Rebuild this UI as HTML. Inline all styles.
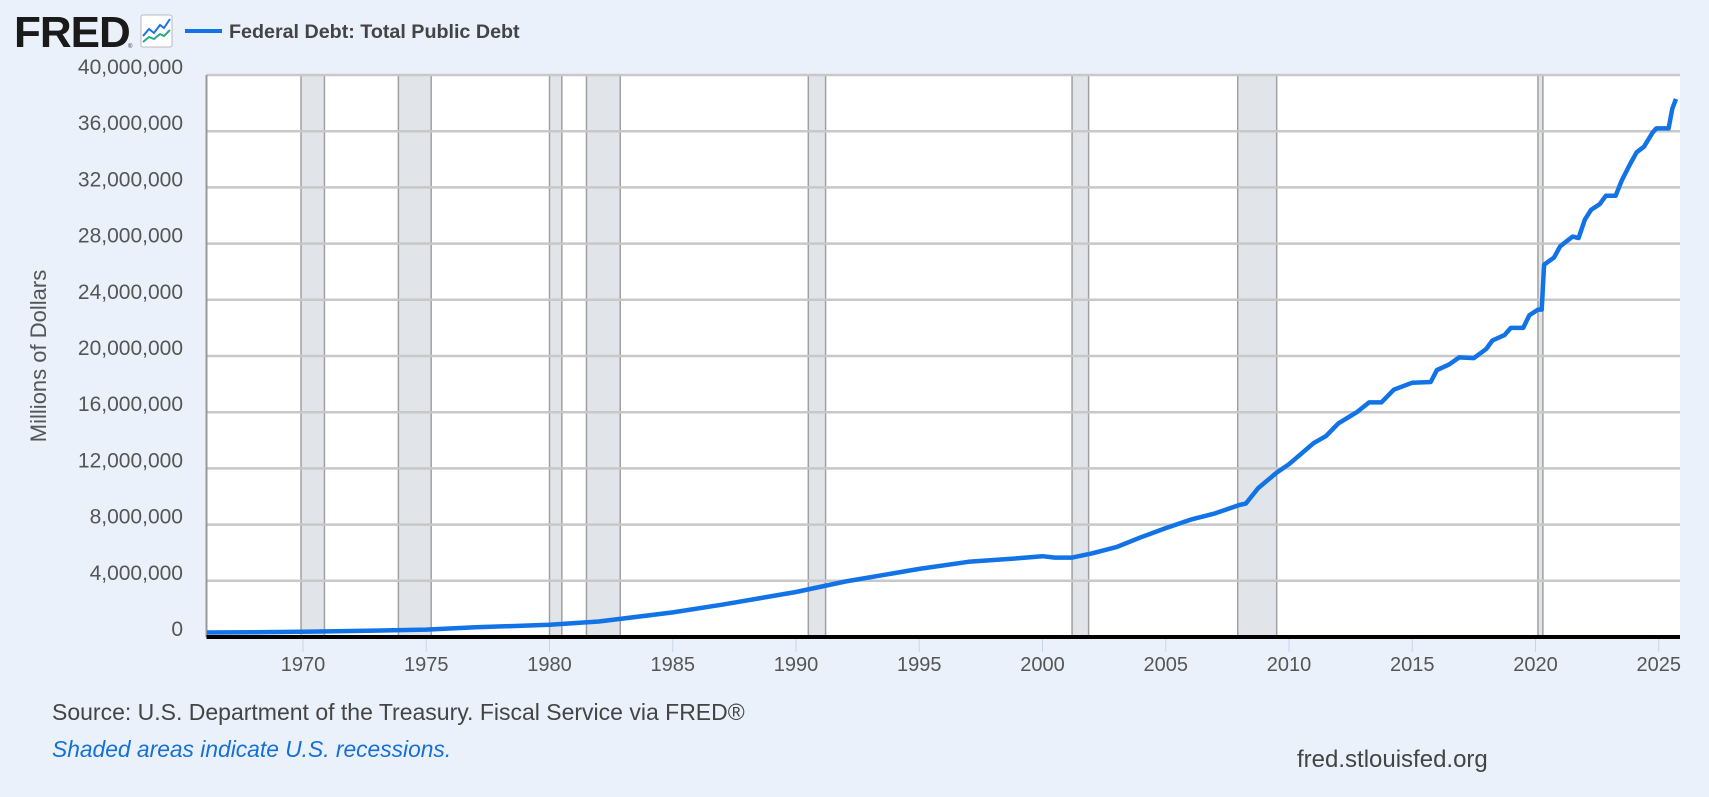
<!DOCTYPE html>
<html><head><meta charset="utf-8"><style>
html,body{margin:0;padding:0;background:#eaf1fb;}
body{width:1709px;height:797px;overflow:hidden;font-family:"Liberation Sans",Arial,sans-serif;}
</style></head><body>
<svg id="s" width="1709" height="797" xmlns="http://www.w3.org/2000/svg" style="position:absolute;left:0;top:0">
<rect width="1709" height="797" fill="#eaf1fb"/>
<text x="14" y="47" font-family="Liberation Sans" font-weight="bold" font-size="44" fill="#1a1a1a" letter-spacing="-1">FRED</text>
<text x="128" y="48" font-size="6" fill="#333">®</text>
<rect x="141" y="15" width="31" height="32" rx="2" fill="#fff" stroke="#bbb" stroke-width="1"/>
<polyline points="143,36 149,29 154,33 160,25 164,28 170,19" fill="none" stroke="#1a73e8" stroke-width="2"/>
<polyline points="143,42 149,37 154,39 160,34 164,36 170,30" fill="none" stroke="#2aa68a" stroke-width="2"/>
<line x1="185" y1="31" x2="222" y2="31" stroke="#1273e6" stroke-width="4"/>
<text x="229" y="38" font-weight="bold" font-size="19.7" fill="#444">Federal Debt: Total Public Debt</text>
<g id="plot"></g>
<text transform="translate(46,356) rotate(-90)" text-anchor="middle" font-size="22" fill="#555">Millions of Dollars</text>
<text x="52" y="720" font-size="23" fill="#444">Source: U.S. Department of the Treasury. Fiscal Service via FRED®</text>
<text x="52" y="757" font-size="22.8" font-style="italic" fill="#1570d6">Shaded areas indicate U.S. recessions.</text>
<text x="1297" y="767" font-size="24" fill="#444">fred.stlouisfed.org</text>
</svg>
<script>
var L=206.5,R=1680,T=75,B=637;
function X(y){return 303+(y-1970)*24.65;}
function Y(v){return B-(v/40000000)*(B-T);}
var h='<rect x="'+L+'" y="'+T+'" width="'+(R-L)+'" height="'+(B-T)+'" fill="#fff"/>';
var rec=[[1969.92,1970.87],[1973.87,1975.2],[1980.0,1980.5],[1981.5,1982.87],[1990.5,1991.2],[2001.2,2001.87],[2007.92,2009.5],[2020.1,2020.3]];
rec.forEach(function(r){var a=X(r[0]),b=X(r[1]);h+='<rect x="'+a+'" y="'+T+'" width="'+(b-a)+'" height="'+(B-T)+'" fill="#e1e5ea" stroke="#a0a0a0" stroke-width="1.5"/>';});
for(var i=0;i<=10;i++){var y=Y(i*4000000);
 if(i>0)h+='<line x1="'+L+'" x2="'+R+'" y1="'+y+'" y2="'+y+'" stroke="#c8c8c8" stroke-width="2.5"/>';
 var lab=(i*4000000).toLocaleString('en-US');
 h+='<text x="183" y="'+(y-1)+'" text-anchor="end" font-size="21" fill="#555">'+lab+'</text>';}
h+='<line x1="'+L+'" x2="'+L+'" y1="'+T+'" y2="'+B+'" stroke="#999" stroke-width="2"/>';
for(var yr=1970;yr<=2025;yr+=5){var x=X(yr);h+='<line x1="'+x+'" x2="'+x+'" y1="'+B+'" y2="'+(B+15)+'" stroke="#c8d4ee" stroke-width="1"/><text x="'+x+'" y="'+(B+34)+'" text-anchor="middle" font-size="20" fill="#555">'+yr+'</text>';}
var d=[[1966.1,320e3],[1968,345e3],[1970,375e3],[1972,430e3],[1975,530e3],[1977,690e3],[1980,870e3],[1982,1.1e6],[1985,1.75e6],[1987,2.3e6],[1990,3.2e6],[1992,3.95e6],[1995,4.85e6],[1997,5.35e6],[1999,5.6e6],[2000,5.75e6],[2000.5,5.65e6],[2001.2,5.65e6],[2002,5.95e6],[2003,6.4e6],[2004,7.1e6],[2005,7.75e6],[2006,8.35e6],[2007,8.8e6],[2008,9.4e6],[2008.25,9.5e6],[2008.75,10.6e6],[2009.5,11.7e6],[2010,12.3e6],[2011,13.8e6],[2011.5,14.3e6],[2012,15.2e6],[2012.75,16.0e6],[2013.25,16.7e6],[2013.75,16.7e6],[2014.25,17.6e6],[2015,18.1e6],[2015.75,18.15e6],[2016,19.0e6],[2016.5,19.4e6],[2016.9,19.9e6],[2017.5,19.85e6],[2018,20.5e6],[2018.25,21.1e6],[2018.75,21.5e6],[2019,22.0e6],[2019.5,22.0e6],[2019.75,22.9e6],[2020.1,23.3e6],[2020.25,23.3e6],[2020.35,26.5e6],[2020.75,27.0e6],[2021,27.8e6],[2021.5,28.5e6],[2021.75,28.4e6],[2022,29.7e6],[2022.25,30.4e6],[2022.6,30.8e6],[2022.85,31.4e6],[2023.25,31.4e6],[2023.5,32.5e6],[2023.85,33.7e6],[2024.1,34.5e6],[2024.4,34.9e6],[2024.75,35.9e6],[2024.9,36.2e6],[2025.4,36.2e6],[2025.55,37.6e6],[2025.7,38.3e6]];
h+='<polyline points="'+d.map(function(p){return X(p[0]).toFixed(1)+','+Y(p[1]).toFixed(1);}).join(' ')+'" fill="none" stroke="#1273e6" stroke-width="4.5" stroke-linejoin="round"/>';
h+='<line x1="'+L+'" x2="'+R+'" y1="'+B+'" y2="'+B+'" stroke="#000" stroke-width="4"/>';
document.getElementById('plot').innerHTML=h;
</script>
</body></html>
